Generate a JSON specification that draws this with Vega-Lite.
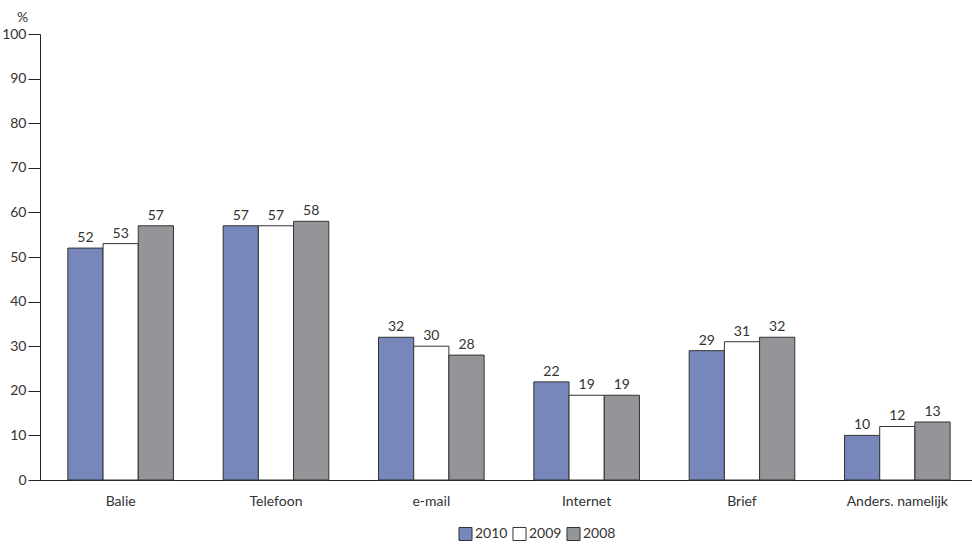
{
  "$schema": "https://vega.github.io/schema/vega-lite/v6.json",
  "width": 932,
  "height": 446,
  "autosize": {"type": "none"},
  "padding": {"left": 40, "top": 34, "right": 0, "bottom": 65},
  "background": "white",
  "config": {
    "view": {"stroke": null},
    "font": "Lato",
    "axis": {"labelFont": "Lato", "titleFont": "Lato", "labelColor": "#333", "titleColor": "#333", "domainColor": "#222", "tickColor": "#222"},
    "legend": {"labelFont": "Lato"}
  },
  "data": {
    "values": [
      {"cat": "Balie", "year": "2010", "v": 52},
      {"cat": "Balie", "year": "2009", "v": 53},
      {"cat": "Balie", "year": "2008", "v": 57},
      {"cat": "Telefoon", "year": "2010", "v": 57},
      {"cat": "Telefoon", "year": "2009", "v": 57},
      {"cat": "Telefoon", "year": "2008", "v": 58},
      {"cat": "e-mail", "year": "2010", "v": 32},
      {"cat": "e-mail", "year": "2009", "v": 30},
      {"cat": "e-mail", "year": "2008", "v": 28},
      {"cat": "Internet", "year": "2010", "v": 22},
      {"cat": "Internet", "year": "2009", "v": 19},
      {"cat": "Internet", "year": "2008", "v": 19},
      {"cat": "Brief", "year": "2010", "v": 29},
      {"cat": "Brief", "year": "2009", "v": 31},
      {"cat": "Brief", "year": "2008", "v": 32},
      {"cat": "Anders. namelijk", "year": "2010", "v": 10},
      {"cat": "Anders. namelijk", "year": "2009", "v": 12},
      {"cat": "Anders. namelijk", "year": "2008", "v": 13}
    ]
  },
  "encoding": {
    "x": {
      "field": "cat", "type": "nominal", "sort": null,
      "scale": {"paddingInner": 0.32, "paddingOuter": 0.16, "align": 0.56},
      "axis": {"title": null, "labelAngle": 0, "ticks": false, "labelPadding": 14, "labelFontSize": 14, "domainWidth": 1}
    },
    "xOffset": {"field": "year", "type": "nominal", "sort": ["2010", "2009", "2008"], "scale": {"paddingInner": 0}},
    "y": {
      "field": "v", "type": "quantitative",
      "scale": {"domain": [0, 100]},
      "axis": {"title": "%", "titleAngle": 0, "titleX": -18, "titleY": -10, "titleFontSize": 14, "titleFontWeight": "normal", "values": [0,10,20,30,40,50,60,70,80,90,100], "labelOverlap": false, "grid": false, "labelFontSize": 14, "tickSize": 12, "labelPadding": 2, "domainWidth": 1}
    }
  },
  "layer": [
    {
      "mark": {"type": "bar", "stroke": "#333", "strokeWidth": 1},
      "encoding": {
        "color": {
          "field": "year", "type": "nominal",
          "scale": {"domain": ["2010", "2009", "2008"], "range": ["#7787bb", "#ffffff", "#939598"]},
          "legend": {"title": null, "orient": "none", "legendX": 418, "legendY": 492, "direction": "horizontal", "symbolType": "square", "symbolSize": 170, "symbolStrokeColor": "#333", "symbolStrokeWidth": 1, "symbolOpacity": 1, "labelFontSize": 14, "labelColor": "#333", "columnPadding": 2, "labelOffset": 2}
        }
      }
    },
    {
      "mark": {"type": "text", "dy": -10, "fontSize": 14, "color": "#333"},
      "encoding": {"text": {"field": "v", "type": "quantitative"}}
    }
  ]
}
